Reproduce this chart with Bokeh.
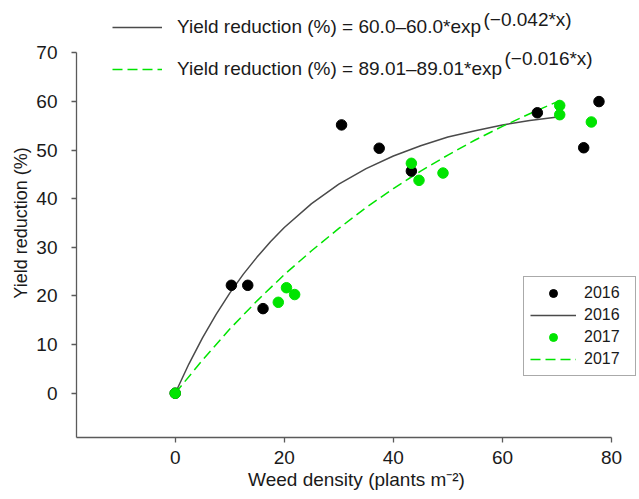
from bokeh.plotting import figure
from bokeh.models import Range1d, Legend, LegendItem, Label, ColumnDataSource, FixedTicker
from bokeh.embed import file_html
from bokeh.resources import INLINE

# ---- data ----
x2016 = [0, 10.3, 13.3, 16.1, 30.5, 37.4, 43.3, 66.4, 74.9, 77.7]
y2016 = [0, 22.2, 22.2, 17.4, 55.2, 50.4, 45.7, 57.7, 50.5, 60.0]
x2017 = [0, 18.9, 20.4, 21.9, 43.3, 44.7, 49.1, 70.5, 70.5, 76.3]
y2017 = [0, 18.7, 21.7, 20.3, 47.3, 43.8, 45.3, 59.2, 57.3, 55.8]

# fitted curves
fit16_x = [0, 2.5, 5, 7.5, 10, 12.5, 15, 17.5, 20, 25, 30, 35, 40, 45, 50, 55, 60, 65, 70.5]
fit16_y = [0, 6.0, 11.4, 16.2, 20.6, 24.5, 28.0, 31.2, 34.1, 39.0, 43.0, 46.2, 48.8, 50.9, 52.7, 54.0, 55.2, 56.1, 56.9]
fit17_x = [0, 5, 10, 15, 20, 25, 30, 35, 40, 45, 50, 55, 60, 65, 70.5]
fit17_y = [0, 6.8, 13.2, 19.0, 24.4, 29.3, 33.9, 38.2, 42.1, 45.7, 49.0, 52.1, 54.9, 57.5, 60.2]

x_ticks = [0, 20, 40, 60, 80]
y_ticks = [0, 10, 20, 30, 40, 50, 60, 70]

eq16_main = "Yield reduction (%) = 60.0\u201360.0*exp"
eq16_sup = "(\u22120.042*x)"
eq17_main = "Yield reduction (%) = 89.01\u201389.01*exp"
eq17_sup = "(\u22120.016*x)"
series_labels = ["2016", "2016", "2017", "2017"]

FONT = "Liberation Sans"
GREEN = "#00e400"
GREY_LINE = "#4a4a4a"
AXIS_COL = "#5a5a5a"

p = figure(width=636, height=496, output_backend="svg", toolbar_location=None,
           x_range=Range1d(-18.1, 84.58), y_range=Range1d(-9.115, 79.15),
           min_border_left=76, min_border_right=0, min_border_top=8, min_border_bottom=59)
p.outline_line_color = None
p.grid.visible = False
p.background_fill_color = "white"

s16 = ColumnDataSource(dict(x=x2016, y=y2016))
s17 = ColumnDataSource(dict(x=x2017, y=y2017))
f16 = ColumnDataSource(dict(x=fit16_x, y=fit16_y))
f17 = ColumnDataSource(dict(x=fit17_x, y=fit17_y))

l16 = p.line("x", "y", source=f16, line_color=GREY_LINE, line_width=1.5)
l17 = p.line("x", "y", source=f17, line_color=GREEN, line_width=1.5, line_dash="10 5")
c16 = p.scatter("x", "y", source=s16, size=10.5, fill_color="black", line_color="black")
c17 = p.scatter("x", "y", source=s17, size=10.5, fill_color=GREEN, line_color=GREEN)

# axes
p.xaxis.ticker = FixedTicker(ticks=x_ticks)
p.yaxis.ticker = FixedTicker(ticks=y_ticks)
p.xaxis.bounds = (-18.1, 80)
p.yaxis.bounds = (-9.115, 70)
for ax in (p.xaxis, p.yaxis):
    ax.axis_line_color = AXIS_COL
    ax.axis_line_width = 1.3
    ax.major_tick_line_color = AXIS_COL
    ax.major_tick_line_width = 1.3
    ax.major_tick_in = 0
    ax.major_tick_out = 5
    ax.minor_tick_line_color = None
    ax.major_label_text_font = FONT
    ax.major_label_text_font_size = "19px"
    ax.major_label_text_color = "#1a1a1a"
    ax.axis_label_text_font = FONT
    ax.axis_label_text_font_style = "normal"
    ax.axis_label_text_color = "#1a1a1a"
p.xaxis.axis_label = "Weed density (plants m\u207b\u00b2)"
p.xaxis.axis_label_text_font_size = "19px"
p.xaxis.axis_label_standoff = 2
p.xaxis.major_label_standoff = 8
p.yaxis.axis_label = "Yield reduction (%)"
p.yaxis.axis_label_text_font_size = "18px"
p.yaxis.axis_label_standoff = 2
p.yaxis.major_label_standoff = 14

# equation legend (top)
top_leg = Legend(items=[LegendItem(label=eq16_main, renderers=[l16]),
                        LegendItem(label=eq17_main, renderers=[l17])],
                 location=(36, 357), padding=0, spacing=20,
                 glyph_width=50, glyph_height=20, label_height=20, label_standoff=15,
                 border_line_color=None, background_fill_alpha=0,
                 label_text_font=FONT, label_text_font_size="19px", label_text_color="#1a1a1a")
p.add_layout(top_leg)
for txt, fx, fy in ((eq16_sup, 407, 418), (eq17_sup, 428, 379)):
    p.add_layout(Label(x=fx, y=fy, x_units="screen", y_units="screen", text=txt,
                       text_font=FONT, text_font_size="19px", text_color="#1a1a1a",
                       text_baseline="alphabetic", text_align="left"))

# series legend (bottom right)
br_leg = Legend(items=[LegendItem(label=series_labels[0], renderers=[c16]),
                       LegendItem(label=series_labels[1], renderers=[l16]),
                       LegendItem(label=series_labels[2], renderers=[c17]),
                       LegendItem(label=series_labels[3], renderers=[l17])],
                location=(447, 61), padding=6, spacing=2,
                glyph_width=46, glyph_height=20, label_height=20, label_width=45,
                label_standoff=8, border_line_color="#555555", border_line_width=1.2,
                background_fill_color="white", background_fill_alpha=1,
                label_text_font=FONT, label_text_font_size="16px", label_text_color="#1a1a1a")
p.add_layout(br_leg)

open("out.html", "w").write(file_html(p, INLINE))
